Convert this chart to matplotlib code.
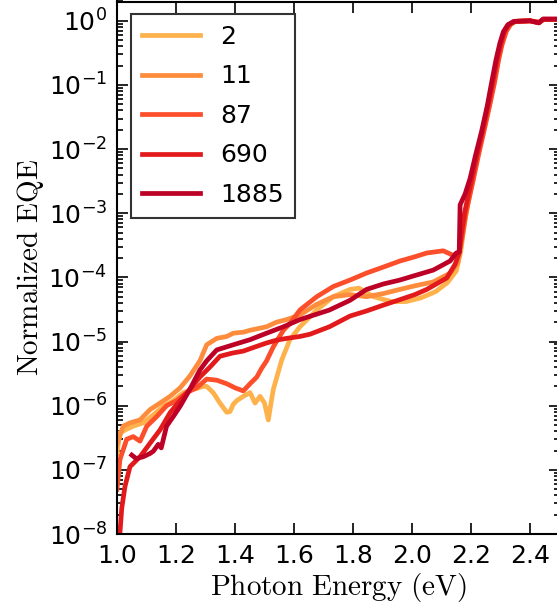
import numpy as np
import matplotlib
matplotlib.use('Agg')
import matplotlib.pyplot as plt
from matplotlib.ticker import FixedLocator, FuncFormatter, LogLocator, NullFormatter, MultipleLocator

plt.rcParams['mathtext.fontset'] = 'cm'
plt.rcParams['font.family'] = 'DejaVu Sans'

# данные
labels = ['2', '11', '87', '690', '1885']
colors = ['#FEB24C', '#FD8D3C', '#FC4E2A', '#E31A1C', '#BD0026']

e_2 = [1.000, 1.010, 1.033, 1.055, 1.089, 1.123, 1.157, 1.191, 1.225, 1.259, 1.293, 1.304,
       1.326, 1.349, 1.372, 1.383, 1.394, 1.406, 1.428, 1.451, 1.468, 1.485, 1.500, 1.513,
       1.522, 1.530, 1.558, 1.586, 1.620, 1.677, 1.733, 1.790, 1.820, 1.870, 1.930, 1.980,
       2.030, 2.080, 2.120, 2.150, 2.165, 2.175, 2.185, 2.200, 2.220, 2.240, 2.260, 2.275,
       2.290, 2.300, 2.315, 2.330, 2.350, 2.400, 2.430, 2.445, 2.490]
eqe_2 = [1.8e-7, 3.8e-7, 4.3e-7, 4.8e-7, 5.4e-7, 7.2e-7, 9.8e-7, 1.2e-6, 1.6e-6, 1.8e-6, 2.0e-6, 2.0e-6,
         1.6e-6, 1.1e-6, 7.9e-7, 8.1e-7, 1.05e-6, 1.2e-6, 1.4e-6, 1.6e-6, 1.1e-6, 1.4e-6, 1.1e-6, 6.0e-7,
         1.1e-6, 1.8e-6, 5.1e-6, 1.07e-5, 1.7e-5, 3.1e-5, 5.0e-5, 6.5e-5, 6.8e-5, 5.0e-5, 4.2e-5, 4.2e-5,
         4.8e-5, 6.0e-5, 8.3e-5, 1.26e-4, 2.5e-4, 5.6e-4, 1.12e-3, 2.7e-3, 7.2e-3, 1.8e-2, 4.6e-2, 0.10,
         0.23, 0.38, 0.66, 0.85, 0.98, 1.0, 0.93, 1.05, 1.05]

e_11 = [1.000, 1.021, 1.044, 1.078, 1.112, 1.146, 1.180, 1.214, 1.247, 1.281, 1.304, 1.338,
        1.372, 1.394, 1.428, 1.451, 1.480, 1.507, 1.540, 1.575, 1.620, 1.677, 1.733, 1.790,
        1.846, 1.903, 1.959, 2.010, 2.072, 2.130, 2.155, 2.168, 2.178, 2.188, 2.203, 2.222,
        2.242, 2.262, 2.277, 2.292, 2.302, 2.317, 2.332, 2.350, 2.400, 2.430, 2.445, 2.490]
eqe_11 = [2.5e-7, 4.8e-7, 5.4e-7, 6.0e-7, 8.7e-7, 1.1e-6, 1.4e-6, 1.9e-6, 2.9e-6, 5.0e-6, 8.9e-6, 1.12e-5,
          1.2e-5, 1.35e-5, 1.4e-5, 1.5e-5, 1.6e-5, 1.7e-5, 2.0e-5, 2.2e-5, 2.6e-5, 3.8e-5, 5.0e-5, 5.4e-5,
          5.0e-5, 5.6e-5, 6.5e-5, 7.4e-5, 8.5e-5, 1.17e-4, 1.66e-4, 3.5e-4, 7.1e-4, 1.26e-3, 2.8e-3, 7.6e-3,
          1.9e-2, 4.8e-2, 0.105, 0.24, 0.40, 0.68, 0.87, 0.98, 1.0, 0.95, 1.05, 1.05]

e_87 = [1.000, 1.010, 1.033, 1.055, 1.078, 1.101, 1.135, 1.168, 1.202, 1.236, 1.270, 1.304,
        1.338, 1.372, 1.400, 1.428, 1.451, 1.474, 1.490, 1.507, 1.530, 1.564, 1.586, 1.620,
        1.677, 1.733, 1.790, 1.846, 1.903, 1.959, 2.010, 2.050, 2.106, 2.140, 2.160, 2.172,
        2.182, 2.192, 2.207, 2.226, 2.246, 2.265, 2.280, 2.294, 2.305, 2.320, 2.335, 2.350,
        2.400, 2.430, 2.445, 2.490]
eqe_87 = [5.0e-8, 1.45e-7, 3.0e-7, 3.3e-7, 2.8e-7, 4.8e-7, 6.8e-7, 1.0e-6, 1.2e-6, 1.6e-6, 1.9e-6, 2.6e-6,
          2.5e-6, 2.2e-6, 1.9e-6, 1.7e-6, 2.2e-6, 2.8e-6, 3.8e-6, 5.0e-6, 8.3e-6, 1.5e-5, 1.9e-5, 3.1e-5,
          5.0e-5, 7.2e-5, 9.1e-5, 1.17e-4, 1.45e-4, 1.8e-4, 2.1e-4, 2.4e-4, 2.6e-4, 2.2e-4, 2.5e-4, 5.0e-4,
          1.0e-3, 1.6e-3, 3.2e-3, 8.3e-3, 2.1e-2, 5.2e-2, 0.11, 0.25, 0.42, 0.69, 0.89, 0.98,
          1.0, 0.95, 1.05, 1.05]

e_690 = [1.005, 1.016, 1.027, 1.044, 1.078, 1.112, 1.146, 1.180, 1.214, 1.247, 1.281, 1.315,
         1.349, 1.390, 1.428, 1.470, 1.507, 1.540, 1.575, 1.620, 1.654, 1.720, 1.790, 1.846,
         1.903, 1.959, 2.010, 2.050, 2.118, 2.146, 2.160, 2.168, 2.178, 2.188, 2.200, 2.219,
         2.239, 2.258, 2.273, 2.288, 2.300, 2.313, 2.328, 2.348, 2.400, 2.430, 2.445, 2.490]
eqe_690 = [5.0e-9, 2.5e-8, 5.5e-8, 1.12e-7, 1.6e-7, 2.6e-7, 4.2e-7, 7.8e-7, 1.2e-6, 1.8e-6, 2.8e-6, 4.0e-6,
           5.9e-6, 6.6e-6, 7.1e-6, 8.3e-6, 9.5e-6, 1.05e-5, 1.12e-5, 1.2e-5, 1.3e-5, 1.7e-5, 2.5e-5, 3.0e-5,
           3.7e-5, 4.5e-5, 5.4e-5, 6.5e-5, 9.8e-5, 1.6e-4, 2.4e-4, 5.0e-4, 1.0e-3, 1.66e-3, 3.0e-3, 7.6e-3,
           1.9e-2, 4.8e-2, 0.105, 0.24, 0.42, 0.68, 0.87, 0.98, 1.0, 0.93, 1.05, 1.05]

e_1885 = [1.050, 1.065, 1.089, 1.112, 1.123, 1.140, 1.150, 1.168, 1.191, 1.214, 1.247, 1.281,
          1.304, 1.338, 1.394, 1.451, 1.507, 1.564, 1.620, 1.720, 1.790, 1.846, 1.903, 1.959,
          2.010, 2.072, 2.129, 2.150, 2.160, 2.163, 2.180, 2.197, 2.215, 2.236, 2.255, 2.270,
          2.285, 2.298, 2.310, 2.325, 2.345, 2.400, 2.430, 2.445, 2.490]
eqe_1885 = [1.7e-7, 1.5e-7, 1.6e-7, 1.8e-7, 1.95e-7, 2.5e-7, 2.2e-7, 4.8e-7, 6.8e-7, 9.8e-7, 1.8e-6, 3.6e-6,
            5.0e-6, 7.4e-6, 8.9e-6, 1.07e-5, 1.35e-5, 1.7e-5, 2.2e-5, 3.1e-5, 4.4e-5, 6.5e-5, 7.9e-5, 9.1e-5,
            1.07e-4, 1.3e-4, 1.8e-4, 2.4e-4, 2.5e-4, 1.35e-3, 2.0e-3, 3.5e-3, 7.9e-3, 1.9e-2, 4.7e-2, 0.11,
            0.25, 0.45, 0.68, 0.87, 0.98, 1.0, 0.93, 1.07, 1.07]

energies = [e_2, e_11, e_87, e_690, e_1885]
values = [eqe_2, eqe_11, eqe_87, eqe_690, eqe_1885]

fig = plt.figure(figsize=(5.57, 6.08), dpi=100)
ax = fig.add_axes([117 / 557, 74 / 608, 442.5 / 557, 532.5 / 608])

for e, v, lab, c in zip(energies, values, labels, colors):
    ax.plot(e, v, color=c, lw=3.4, label=lab)

ax.set_yscale('log')
ax.set_xlim(1.0, 2.5)
ax.set_ylim(1e-8, 2)

ax.xaxis.set_major_locator(MultipleLocator(0.2))
ax.xaxis.set_major_formatter(FuncFormatter(lambda x, p: '%.1f' % x))
ax.yaxis.set_major_locator(FixedLocator([10.0 ** k for k in range(-8, 1)]))
ax.yaxis.set_major_formatter(FuncFormatter(
    lambda y, p: r'$\mathdefault{10^{%d}}$' % int(round(np.log10(y)))))
ax.yaxis.set_minor_locator(LogLocator(base=10, subs=np.arange(2, 10), numticks=20))
ax.yaxis.set_minor_formatter(NullFormatter())

ax.tick_params(which='both', direction='in', top=True, right=True, labelsize=18, width=1.2)
ax.tick_params(which='major', length=8, pad=7)
ax.tick_params(which='minor', length=4)
for s in ax.spines.values():
    s.set_linewidth(1.5)

ax.set_xlabel(r'$\mathrm{Photon\ Energy\ (eV)}$', fontsize=21, labelpad=2)
ax.set_ylabel(r'$\mathrm{Normalized\ EQE}$', fontsize=21, labelpad=2)

leg = ax.legend(loc='upper left', bbox_to_anchor=(0.032, 0.977), borderaxespad=0,
                fontsize=18, handlelength=2.3, labelspacing=0.62, fancybox=False,
                borderpad=0.45, handletextpad=0.8)
leg.get_frame().set_edgecolor('black')
leg.get_frame().set_linewidth(1.5)

fig.savefig('out.png', dpi=100)
